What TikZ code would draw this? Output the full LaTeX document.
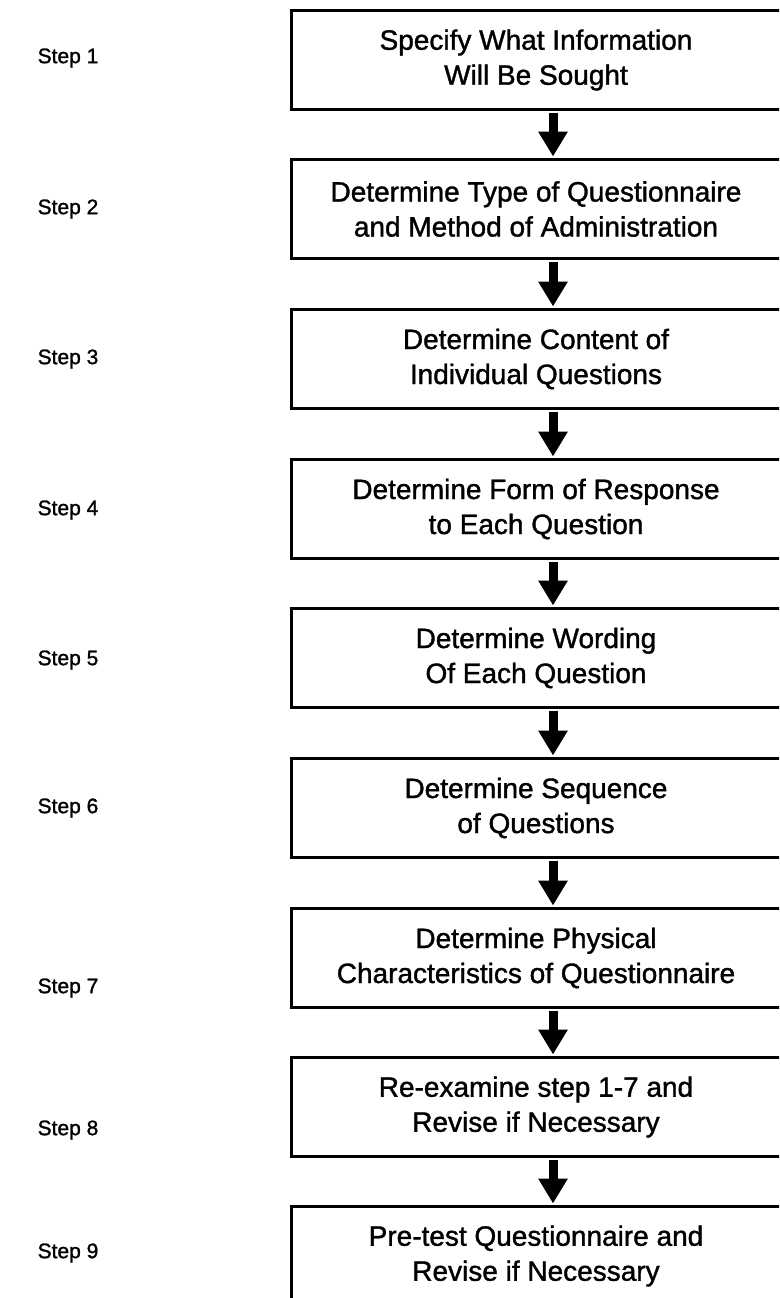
\documentclass[tikz,border=0pt]{standalone}
\usepackage{fontspec}
\setmainfont{Liberation Sans}[FakeBold=1.3]
\usetikzlibrary{arrows.meta}
\begin{document}
\begin{tikzpicture}[x=1pt,y=-1pt,
  stepbox/.style={draw=black,line width=3pt,minimum width=490pt,minimum height=99pt,
    inner sep=0pt,align=center,font=\fontsize{28}{35}\selectfont,anchor=north},
  steplabel/.style={font=\fontsize{21}{25}\selectfont},
  flow/.style={line width=9pt,-{Triangle[width=28pt,length=25pt]},shorten <=1.5pt,shorten >=1.5pt}]
\useasboundingbox[clip] (0,0) rectangle (779,1298);
\fill[white] (0,0) rectangle (779,1298);

% process boxes (their right edges run past the page)
\node[stepbox] (b1) at (536,9)    {Specify What Information\\Will Be Sought};
\node[stepbox] (b2) at (536,158)  {Determine Type of Questionnaire\\and Method of Administration};
\node[stepbox] (b3) at (536,308)  {Determine Content of\\Individual Questions};
\node[stepbox] (b4) at (536,458)  {Determine Form of Response\\to Each Question};
\node[stepbox] (b5) at (536,607)  {Determine Wording\\Of Each Question};
\node[stepbox] (b6) at (536,757)  {Determine Sequence\\of Questions};
\node[stepbox] (b7) at (536,907)  {Determine Physical\\Characteristics of Questionnaire};
\node[stepbox] (b8) at (536,1056) {Re-examine step 1-7 and\\Revise if Necessary};
\node[stepbox] (b9) at (536,1205) {Pre-test Questionnaire and\\Revise if Necessary};

% step labels
\node[steplabel] (s1) at (68,58)   {Step 1};
\node[steplabel] (s2) at (68,209)  {Step 2};
\node[steplabel] (s3) at (68,359)  {Step 3};
\node[steplabel] (s4) at (68,510)  {Step 4};
\node[steplabel] (s5) at (68,660)  {Step 5};
\node[steplabel] (s6) at (68,808)  {Step 6};
\node[steplabel] (s7) at (68,988)  {Step 7};
\node[steplabel] (s8) at (68,1130) {Step 8};
\node[steplabel] (s9) at (68,1253) {Step 9};

% connectors between consecutive boxes
\coordinate (ax) at (553,0);
\foreach \a/\b in {b1/b2,b2/b3,b3/b4,b4/b5,b5/b6,b6/b7,b7/b8,b8/b9}
  \draw[flow] (\a.south -| ax) -- (\b.north -| ax);
\end{tikzpicture}
\end{document}
